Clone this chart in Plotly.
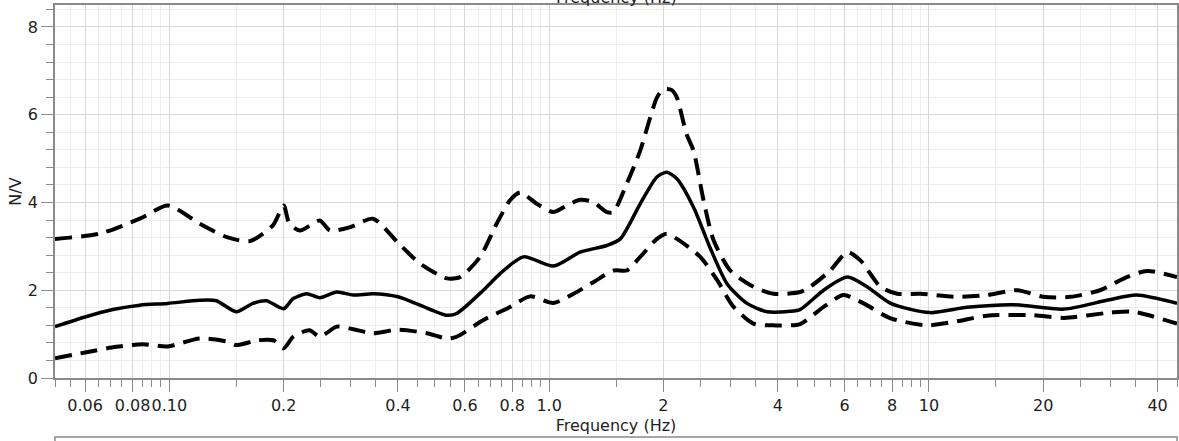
import plotly.graph_objects as go

# ---- data ----
mean_f = [0.05, 0.06, 0.071, 0.0836, 0.099, 0.12, 0.133, 0.15, 0.166, 0.18, 0.2, 0.212, 0.23, 0.249,
          0.276, 0.305, 0.344, 0.40, 0.457, 0.538, 0.571, 0.671, 0.743, 0.856, 1.026, 1.207, 1.419,
          1.54, 1.737, 1.922, 2.04, 2.17, 2.40, 2.65, 2.94, 3.32, 3.75, 4.3, 4.58, 5.28, 6.1, 6.87,
          7.93, 10.06, 12.6, 16.7, 22.7, 29.4, 35.2, 45]
mean_v = [1.17, 1.39, 1.56, 1.66, 1.70, 1.77, 1.76, 1.51, 1.70, 1.76, 1.58, 1.81, 1.92, 1.83,
          1.96, 1.89, 1.92, 1.85, 1.66, 1.43, 1.47, 2.00, 2.38, 2.76, 2.55, 2.87, 3.02,
          3.17, 3.97, 4.58, 4.69, 4.54, 3.89, 2.98, 2.15, 1.70, 1.51, 1.52, 1.56, 2.00, 2.30, 2.08,
          1.70, 1.49, 1.61, 1.67, 1.57, 1.77, 1.89, 1.70]

upper_f = [0.05, 0.0656, 0.0836, 0.0992, 0.12, 0.1417, 0.163, 0.1874, 0.2, 0.207, 0.221, 0.249,
           0.265, 0.30, 0.344, 0.40, 0.457, 0.538, 0.583, 0.658, 0.728, 0.789, 0.839, 0.928, 1.025,
           1.113, 1.207, 1.306, 1.419, 1.475, 1.60, 1.737, 1.922, 2.0, 2.105, 2.17, 2.30, 2.40,
           2.55, 2.71, 3.0, 3.45, 3.9, 4.58, 4.87, 5.5, 6.1, 6.6, 7.45, 8.25, 9.5, 11.6, 14.2,
           17.1, 20.0, 23.6, 28.2, 33.2, 37.5, 45]
upper_v = [3.17, 3.29, 3.63, 3.93, 3.52, 3.21, 3.12, 3.48, 3.93, 3.52, 3.36, 3.59,
           3.36, 3.44, 3.63, 3.08, 2.61, 2.27, 2.30, 2.76, 3.52, 4.05, 4.23, 3.97, 3.78,
           3.93, 4.06, 4.01, 3.78, 3.78, 4.42, 5.18, 6.39, 6.58, 6.56, 6.39, 5.56, 5.18,
           4.05, 3.14, 2.45, 2.08, 1.92, 1.96, 2.08, 2.45, 2.87, 2.68, 2.08, 1.92, 1.92, 1.85, 1.89,
           2.00, 1.85, 1.85, 2.00, 2.30, 2.44, 2.30]

lower_f = [0.05, 0.06, 0.0724, 0.085, 0.099, 0.12, 0.142, 0.15, 0.171, 0.188, 0.2, 0.212, 0.234,
           0.249, 0.276, 0.305, 0.344, 0.40, 0.476, 0.538, 0.571, 0.671, 0.789, 0.891, 1.026, 1.16,
           1.31, 1.48, 1.60, 1.737, 1.922, 2.04, 2.17, 2.5, 2.77, 3.06, 3.45, 3.9, 4.58, 5.28,
           5.96, 6.73, 7.93, 9.86, 11.66, 14.2, 18.9, 22.7, 30.0, 34.5, 45]
lower_v = [0.45, 0.58, 0.71, 0.77, 0.72, 0.90, 0.83, 0.75, 0.86, 0.86, 0.68, 0.94, 1.09,
           0.94, 1.17, 1.11, 1.02, 1.10, 1.02, 0.90, 0.94, 1.32, 1.62, 1.86, 1.71, 1.92,
           2.19, 2.45, 2.45, 2.76, 3.17, 3.29, 3.17, 2.76, 2.23, 1.62, 1.24, 1.20, 1.23, 1.62,
           1.89, 1.70, 1.36, 1.20, 1.28, 1.42, 1.43, 1.37, 1.49, 1.51, 1.24]

x_tickvals = [0.06, 0.08, 0.1, 0.2, 0.4, 0.6, 0.8, 1, 2, 4, 6, 8, 10, 20, 40]
x_ticktext = ["0.06", "0.08", "0.10", "0.2", "0.4", "0.6", "0.8", "1.0", "2", "4", "6", "8", "10", "20", "40"]
x_minorvals = ([0.05, 0.055, 0.065, 0.07, 0.075, 0.085, 0.09, 0.095]
               + [0.15, 0.25, 0.3, 0.35, 0.45, 0.5, 0.55, 0.65, 0.7, 0.75, 0.85, 0.9, 0.95]
               + [1.5, 2.5, 3, 3.5, 4.5, 5, 5.5, 6.5, 7, 7.5, 8.5, 9, 9.5]
               + [15, 25, 30, 35, 45])
y_tickvals = [0, 2, 4, 6, 8]
y_ticktext = ["0", "2", "4", "6", "8"]

FONT = "DejaVu Sans"
AXC = "#8a8a8a"
TXT = "#1e1e1e"

fig = go.Figure()
dash = "17px,9px"
fig.add_trace(go.Scatter(x=upper_f, y=upper_v, mode="lines",
                         line=dict(color="black", width=4, dash=dash, shape="spline", smoothing=0.7)))
fig.add_trace(go.Scatter(x=lower_f, y=lower_v, mode="lines",
                         line=dict(color="black", width=4, dash=dash, shape="spline", smoothing=0.7)))
fig.add_trace(go.Scatter(x=mean_f, y=mean_v, mode="lines",
                         line=dict(color="black", width=3.5, shape="spline", smoothing=0.7)))

fig.update_layout(
    width=1179, height=441,
    margin=dict(l=55, r=2, t=5, b=63, autoexpand=False),
    paper_bgcolor="white", plot_bgcolor="white",
    showlegend=False,
    font=dict(family=FONT, size=16, color=TXT),
)

fig.update_xaxes(
    type="log", range=[-1.30103, 1.65321],
    tickmode="array", tickvals=x_tickvals, ticktext=x_ticktext, tickangle=0,
    ticks="outside", ticklen=12, tickwidth=1, tickcolor=AXC,
    showgrid=True, gridcolor="#d9d9d9", gridwidth=1,
    showline=True, linecolor=AXC, linewidth=1.5, mirror=True,
    zeroline=False, automargin=False,
    tickfont=dict(family=FONT, size=16, color=TXT),
    title=dict(text="Frequency (Hz)", font=dict(family=FONT, size=16, color=TXT), standoff=6),
    minor=dict(tickmode="array", tickvals=x_minorvals, ticks="outside", ticklen=7,
               tickcolor=AXC, showgrid=True, gridcolor="#eeeeee", gridwidth=1),
)
fig.update_yaxes(
    range=[0, 8.5],
    tickmode="array", tickvals=y_tickvals, ticktext=y_ticktext,
    ticks="outside", ticklen=12, tickwidth=1, tickcolor=AXC,
    showgrid=True, gridcolor="#d9d9d9", gridwidth=1,
    showline=True, linecolor=AXC, linewidth=1.5, mirror=True,
    zeroline=False, automargin=False,
    tickfont=dict(family=FONT, size=16, color=TXT),
    title=dict(text="N/V", font=dict(family=FONT, size=16, color=TXT), standoff=2),
    minor=dict(dtick=0.4, tick0=0, ticks="outside", ticklen=7,
               tickcolor=AXC, showgrid=True, gridcolor="#eeeeee", gridwidth=1),
)

# partial title of the panel above (cut off at top)
fig.add_annotation(text="Frequency (Hz)", xref="paper", yref="paper", x=0.5, y=1,
                   yanchor="bottom", showarrow=False, yshift=-4,
                   font=dict(family=FONT, size=16, color=TXT))
# top frame of the next panel below (cut off at bottom)
fig.add_shape(type="rect", xref="paper", yref="paper", x0=0, x1=1, y0=-0.35, y1=-0.158,
              line=dict(color=AXC, width=1.5), fillcolor="rgba(0,0,0,0)", layer="above")

fig.write_html("out.html",
               config={"displayModeBar": False},
               post_script="document.documentElement.style.overflow='hidden';"
                           "document.body.style.margin='0';document.body.style.overflow='hidden';")
